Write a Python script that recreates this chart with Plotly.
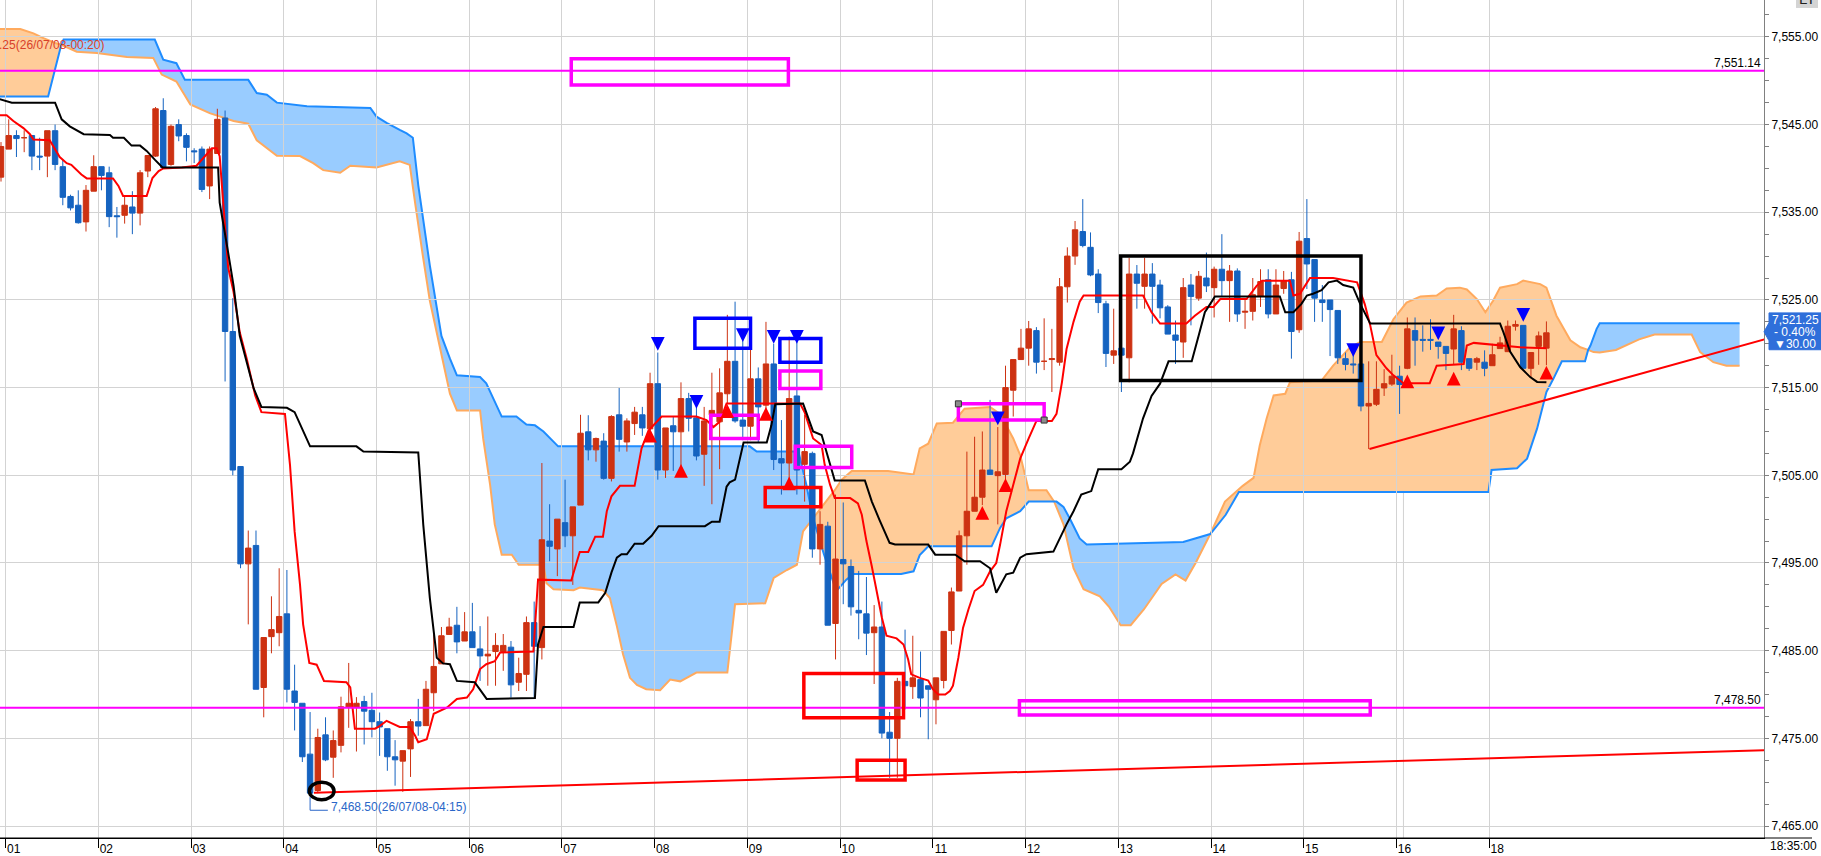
import plotly.graph_objects as go

# ---------------- candle data (5-minute bars) ----------------
opens = [7539.0, 7542.2, 7543.75, 7543.5, 7543.75, 7541.4, 7541.4, 7544.3, 7540.2, 7536.8,
         7535.8, 7533.9, 7537.4, 7540.2, 7539.5, 7534.6, 7534.65, 7535.6, 7534.9, 7539.7,
         7541.4, 7546.6, 7540.45, 7545.0, 7543.75, 7542.0, 7542.2, 7538.0, 7541.7, 7545.75,
         7521.4, 7506.0, 7494.9, 7497.0, 7480.8, 7486.6, 7487.05, 7489.2, 7480.4, 7479.0,
         7473.2, 7469.05, 7475.4, 7472.85, 7474.2, 7478.55, 7478.55, 7479.2, 7478.2, 7476.9,
         7476.1, 7472.9, 7472.4, 7473.8, 7476.9, 7476.45, 7480.2, 7483.5, 7486.85, 7487.9,
         7486.1, 7487.15, 7485.2, 7484.4, 7484.9, 7484.9, 7485.4, 7481.4, 7482.3, 7488.2,
         7485.35, 7497.5, 7496.6, 7499.6, 7498.1, 7501.6, 7509.96, 7507.9, 7508.9, 7504.65,
         7511.9, 7508.8, 7510.9, 7511.9, 7510.3, 7515.45, 7505.6, 7510.65, 7509.96, 7513.75,
         7511.55, 7507.4, 7511.9, 7511.1, 7514.3, 7518.0, 7511.3, 7510.6, 7516.0, 7513.0,
         7517.7, 7506.9, 7506.4, 7514.05, 7506.25, 7507.5, 7496.6, 7499.2, 7488.1, 7495.4,
         7494.6, 7489.6, 7489.2, 7487.05, 7487.7, 7475.7, 7475.0, 7481.5, 7480.9, 7481.7,
         7481.0, 7479.4, 7481.6, 7487.3, 7491.8, 7498.1, 7500.9, 7502.5, 7505.6, 7504.96,
         7505.1, 7514.7, 7518.2, 7519.5, 7521.5, 7518.0, 7518.2, 7517.9, 7526.5, 7530.0,
         7532.8, 7531.0, 7527.95, 7524.55, 7518.7, 7519.5, 7518.4, 7527.95, 7526.55, 7527.95,
         7526.7, 7524.2, 7521.0, 7520.2, 7526.7, 7525.2, 7527.5, 7526.4, 7528.5, 7527.2,
         7528.3, 7523.6, 7523.7, 7525.4, 7527.3, 7523.4, 7526.3, 7527.3, 7521.6, 7532.0,
         7529.6, 7525.0, 7525.0, 7523.8, 7518.3, 7517.7, 7517.7, 7512.9, 7513.1, 7514.96,
         7515.4, 7516.3, 7517.2, 7521.5, 7520.5, 7520.5, 7520.2, 7519.7, 7519.4, 7521.5,
         7518.3, 7517.9, 7517.9, 7517.5, 7519.45, 7519.1, 7522.0, 7522.1, 7517.2, 7519.7,
         7519.5]
highs = [7543.0, 7545.6, 7544.35, 7544.35, 7543.8, 7543.5, 7544.3, 7545.0, 7541.0, 7537.0,
         7537.5, 7538.1, 7541.5, 7540.2, 7540.2, 7535.6, 7536.8, 7537.4, 7539.8, 7541.5,
         7547.0, 7548.0, 7545.0, 7545.6, 7544.0, 7542.3, 7542.5, 7542.5, 7546.8, 7546.6,
         7525.2, 7506.0, 7498.7, 7498.7, 7486.5, 7491.2, 7494.4, 7494.2, 7483.4, 7479.0,
         7478.0, 7476.1, 7477.4, 7475.9, 7479.75, 7483.6, 7479.7, 7479.85, 7480.2, 7477.95,
         7476.1, 7474.8, 7473.6, 7477.2, 7479.5, 7481.55, 7486.85, 7487.7, 7488.75, 7490.0,
         7489.4, 7490.45, 7487.8, 7488.9, 7487.0, 7486.9, 7486.1, 7484.2, 7488.9, 7490.6,
         7506.4, 7501.7, 7500.0, 7504.5, 7501.4, 7511.9, 7511.85, 7509.3, 7509.8, 7511.85,
         7514.96, 7511.5, 7512.8, 7512.8, 7516.7, 7519.0, 7510.4, 7511.7, 7515.6, 7514.4,
         7513.1, 7512.8, 7516.7, 7517.2, 7523.3, 7524.8, 7520.6, 7520.2, 7517.3, 7522.5,
         7520.0, 7511.3, 7520.8, 7520.8, 7511.9, 7507.7, 7500.9, 7499.7, 7502.8, 7501.9,
         7495.4, 7494.1, 7493.4, 7490.2, 7490.6, 7478.0, 7481.9, 7487.4, 7486.7, 7484.9,
         7481.0, 7481.9, 7487.2, 7492.2, 7498.7, 7507.7, 7509.4, 7510.0, 7513.6, 7510.5,
         7517.5, 7518.2, 7521.7, 7522.6, 7521.9, 7522.9, 7521.7, 7527.5, 7531.0, 7534.0,
         7536.5, 7532.7, 7528.5, 7524.9, 7524.0, 7519.5, 7529.8, 7528.98, 7529.8, 7529.2,
         7527.3, 7524.4, 7522.65, 7527.5, 7527.95, 7528.3, 7530.4, 7528.8, 7532.5, 7528.98,
         7528.6, 7525.2, 7527.5, 7528.5, 7528.5, 7528.5, 7528.3, 7528.2, 7532.75, 7536.5,
         7529.6, 7526.7, 7525.0, 7523.8, 7519.0, 7519.0, 7517.7, 7518.0, 7518.0, 7517.1,
         7518.75, 7517.5, 7523.0, 7523.0, 7522.1, 7522.8, 7520.2, 7519.7, 7523.3, 7522.0,
         7518.3, 7518.5, 7519.25, 7520.0, 7520.8, 7522.65, 7522.65, 7522.1, 7519.0, 7521.4,
         7522.55]
lows = [7538.5, 7542.2, 7541.3, 7541.85, 7539.8, 7539.8, 7539.0, 7539.8, 7535.8, 7535.2,
        7533.7, 7532.8, 7537.4, 7537.5, 7533.3, 7532.1, 7533.7, 7532.5, 7533.5, 7539.0,
        7541.3, 7540.1, 7540.3, 7543.1, 7540.8, 7540.6, 7537.3, 7536.5, 7541.7, 7515.7,
        7505.0, 7494.4, 7488.0, 7480.6, 7477.4, 7484.7, 7485.5, 7479.1, 7475.9, 7472.3,
        7468.5, 7468.75, 7472.4, 7470.5, 7473.4, 7476.2, 7473.5, 7474.3, 7475.1, 7473.0,
        7471.3, 7469.6, 7468.9, 7470.6, 7475.3, 7476.45, 7478.1, 7483.5, 7486.85, 7484.7,
        7486.1, 7485.35, 7481.55, 7481.0, 7481.0, 7482.7, 7479.65, 7480.4, 7480.4, 7479.65,
        7484.0, 7495.2, 7493.5, 7496.8, 7492.5, 7501.6, 7506.7, 7506.55, 7504.5, 7504.3,
        7507.7, 7507.7, 7509.6, 7509.5, 7510.3, 7504.5, 7504.7, 7505.5, 7505.4, 7510.0,
        7506.7, 7503.8, 7501.7, 7505.7, 7513.1, 7511.0, 7509.0, 7509.0, 7508.8, 7512.0,
        7505.6, 7502.8, 7503.9, 7502.8, 7502.0, 7495.6, 7494.8, 7487.9, 7484.0, 7490.3,
        7489.0, 7486.3, 7484.5, 7481.2, 7475.0, 7470.5, 7470.5, 7478.3, 7479.5, 7477.4,
        7474.9, 7476.6, 7480.7, 7485.7, 7491.8, 7494.8, 7500.9, 7501.6, 7505.1, 7499.4,
        7504.1, 7511.7, 7518.2, 7517.5, 7516.6, 7517.0, 7514.5, 7517.5, 7524.7, 7529.0,
        7531.0, 7527.7, 7523.5, 7517.35, 7517.7, 7514.5, 7515.6, 7524.0, 7524.0, 7522.3,
        7522.9, 7521.1, 7517.7, 7518.4, 7522.1, 7524.9, 7525.9, 7523.0, 7525.4, 7522.5,
        7522.5, 7521.7, 7522.65, 7524.2, 7522.9, 7523.4, 7525.7, 7518.3, 7521.25, 7526.25,
        7522.5, 7522.5, 7518.6, 7517.7, 7516.97, 7516.6, 7512.3, 7508.0, 7512.9, 7514.05,
        7515.2, 7512.0, 7517.1, 7517.5, 7519.1, 7519.3, 7518.3, 7517.0, 7517.6, 7517.0,
        7516.9, 7517.0, 7516.3, 7517.5, 7519.45, 7519.1, 7521.5, 7517.2, 7516.2, 7517.6,
        7517.55]
closes = [7542.5, 7543.75, 7543.4, 7543.5, 7541.4, 7541.3, 7544.3, 7540.45, 7536.7, 7535.5,
          7533.8, 7537.5, 7540.2, 7539.2, 7534.5, 7534.5, 7535.8, 7534.9, 7539.5, 7541.47,
          7546.8, 7540.1, 7544.8, 7543.7, 7542.4, 7541.9, 7537.6, 7542.2, 7545.6, 7521.4,
          7505.6, 7494.9, 7496.7, 7480.6, 7486.5, 7487.4, 7488.9, 7480.6, 7479.1, 7472.9,
          7468.75, 7475.1, 7472.55, 7474.75, 7478.6, 7479.0, 7479.0, 7478.1, 7476.9, 7476.3,
          7472.9, 7472.55, 7473.6, 7476.9, 7476.4, 7480.6, 7483.2, 7486.7, 7487.7, 7486.0,
          7487.15, 7485.35, 7484.4, 7484.6, 7485.6, 7485.6, 7481.1, 7482.4, 7488.2, 7485.5,
          7497.65, 7496.9, 7500.0, 7498.1, 7501.4, 7509.8, 7507.9, 7509.2, 7504.65, 7511.7,
          7509.1, 7511.2, 7512.2, 7510.4, 7515.45, 7505.6, 7510.4, 7509.96, 7513.75, 7511.5,
          7507.2, 7511.2, 7512.4, 7514.4, 7518.0, 7511.2, 7510.6, 7516.0, 7512.8, 7517.7,
          7506.8, 7506.4, 7513.75, 7505.6, 7507.7, 7496.6, 7499.4, 7487.9, 7495.45, 7494.9,
          7490.0, 7489.3, 7487.0, 7487.7, 7475.6, 7475.0, 7481.5, 7481.0, 7481.9, 7479.6,
          7480.6, 7481.9, 7487.2, 7491.7, 7498.1, 7500.9, 7502.5, 7505.6, 7505.1, 7505.4,
          7515.0, 7518.2, 7519.5, 7521.7, 7517.9, 7518.0, 7518.3, 7526.5, 7530.0, 7533.0,
          7531.2, 7527.85, 7524.7, 7518.9, 7519.2, 7518.7, 7527.95, 7526.9, 7527.95, 7526.55,
          7524.1, 7521.1, 7520.4, 7526.4, 7525.4, 7527.7, 7526.6, 7528.5, 7527.2, 7528.3,
          7523.4, 7523.7, 7525.6, 7527.1, 7523.4, 7526.7, 7527.2, 7521.4, 7531.7, 7529.1,
          7525.2, 7524.7, 7523.9, 7518.4, 7517.65, 7517.6, 7512.9, 7513.2, 7514.8, 7515.45,
          7516.3, 7515.35, 7521.7, 7520.4, 7520.4, 7520.4, 7519.7, 7518.9, 7521.7, 7517.9,
          7517.2, 7518.3, 7517.2, 7518.75, 7520.1, 7522.0, 7522.2, 7517.2, 7519.0, 7520.9,
          7521.25]
bar_index = list(range(len(opens)))

hour_labels = ["01", "02", "03", "04", "05", "06", "07", "08", "09", "10",
               "11", "12", "13", "14", "15", "16", "18"]

# ---------------- indicator lines (bar index, price) ----------------
tenkan_x = [-0.2, 0.73, 1.6, 2.9, 3.75, 4.2, 6.3, 7.6, 8.5, 9.1, 10.4, 11.1, 14.5, 15.2, 15.8, 18.85,
            19.6, 20.4, 21.0, 23.4, 25.3, 27.3, 27.9, 28.3, 29.4, 30.1, 30.9, 31.8, 32.9, 33.7, 36.75,
            37.4, 38.0, 38.7, 39.1, 39.9, 40.85, 41.8, 44.7, 45.2, 45.8, 48.4, 49.0, 49.9, 51.6, 52.9,
            53.6, 54.0, 55.1, 56.0, 57.7, 59.0, 60.3, 61.1, 62.0, 62.8, 63.9, 64.6, 68.9, 69.5, 73.8,
            74.9, 76.0, 76.9, 77.9, 78.4, 79.0, 80.1, 82.0, 82.9, 83.8, 85.5, 90.0, 91.3, 92.2, 93.0,
            93.9, 103.4, 104.0, 104.7, 105.1, 106.2, 106.6, 107.3, 107.9, 109.9, 110.9, 111.4, 112.0,
            112.7, 113.3, 114.0, 114.6, 115.9, 116.8, 117.4, 117.8, 118.9, 120.0, 120.6, 121.3, 122.2,
            122.8, 123.2, 123.9, 124.5, 125.2, 126.0, 127.1, 128.0, 128.8, 129.3, 130.1, 131.0, 131.9,
            133.0, 134.0, 136.0, 136.6, 137.3, 137.9, 138.8, 139.6, 140.1, 147.8, 148.9, 150.0, 153.4,
            154.5, 156.0, 156.9, 157.8, 161.2, 162.5, 163.2, 166.8, 167.25, 168.1, 169.4, 172.4, 175.5,
            176.5, 177.2, 178.0, 179.3, 180.2, 181.5, 184.9, 185.8, 189.3, 189.7, 190.6, 194.4, 196.6,
            200.0]
tenkan_y = [7546.06, 7546.06, 7545.4, 7544.6, 7543.9, 7543.3, 7543.2, 7541.3, 7540.6, 7540.4, 7539.3,
            7538.86, 7538.86, 7538.0, 7536.85, 7536.85, 7538.9, 7539.7, 7540.0, 7540.1, 7540.3, 7542.3,
            7542.3, 7541.4, 7528.7, 7525.9, 7521.3, 7518.3, 7514.1, 7512.2, 7512.0, 7506.2, 7498.6,
            7492.5, 7488.0, 7483.6, 7483.4, 7481.55, 7481.4, 7480.8, 7476.1, 7476.1, 7476.4, 7477.0,
            7476.3, 7476.3, 7475.3, 7474.55, 7474.9, 7477.8, 7478.5, 7479.5, 7479.65, 7480.6, 7482.9,
            7483.45, 7483.8, 7484.8, 7484.9, 7493.1, 7493.0, 7496.25, 7496.25, 7498.0, 7498.0, 7500.9,
            7502.6, 7503.8, 7503.8, 7508.07, 7510.1, 7511.7, 7511.7, 7511.3, 7510.5, 7511.1, 7513.2,
            7513.2, 7512.2, 7510.2, 7509.2, 7508.45, 7506.2, 7503.9, 7502.4, 7502.4, 7501.8, 7500.5,
            7497.5, 7494.6, 7491.8, 7488.75, 7486.7, 7486.4, 7485.7, 7484.0, 7482.3, 7481.9, 7481.6,
            7480.6, 7480.0, 7480.0, 7480.4, 7481.0, 7484.2, 7487.6, 7489.7, 7491.8, 7492.5, 7494.05,
            7495.0, 7497.1, 7500.9, 7503.9, 7506.9, 7509.2, 7511.2, 7511.2, 7512.0, 7515.6, 7519.4,
            7522.5, 7524.8, 7525.5, 7525.5, 7523.6, 7522.3, 7522.3, 7523.2, 7524.2, 7524.2, 7525.1,
            7525.1, 7526.6, 7527.2, 7527.2, 7525.5, 7525.7, 7527.5, 7527.5, 7527.0, 7524.5, 7522.1,
            7518.7, 7517.2, 7516.4, 7515.5, 7515.5, 7517.5, 7517.7, 7519.8, 7520.1, 7519.8, 7519.6,
            7519.5]

kijun_x = [-0.2, 0.95, 1.4, 7.0, 7.85, 8.9, 10.7, 14.1, 14.5, 15.9, 16.9, 18.0, 18.85, 19.9, 20.9,
           28.1, 28.3, 29.4, 30.1, 30.9, 31.8, 32.7, 33.7, 37.0, 38.0, 40.0, 46.0, 46.9, 54.0, 54.2,
           54.65, 55.5, 56.4, 57.2, 58.1, 59.0, 61.3, 62.85, 69.1, 69.5, 70.2, 74.1, 74.9, 77.3, 78.2,
           79.0, 79.7, 80.3, 81.0, 82.0, 83.1, 84.2, 85.1, 91.1, 92.0, 93.0, 93.9, 94.3, 95.0, 96.1,
           99.1, 99.7, 100.2, 103.8, 104.7, 105.1, 106.2, 107.3, 107.9, 111.8, 112.7, 113.7, 115.0,
           115.7, 120.0, 120.9, 123.5, 124.7, 126.7, 128.0, 128.8, 130.1, 131.0, 131.9, 132.7, 136.2,
           137.0, 137.9, 138.8, 139.8, 141.1, 142.0, 145.0, 146.1, 146.5, 147.8, 148.9, 150.0, 151.1,
           154.1, 155.0, 155.8, 156.5, 157.1, 165.5, 166.2, 167.25, 168.3, 169.0, 169.8, 170.9, 171.8,
           172.9, 173.7, 175.0, 175.9, 177.2, 194.0, 194.4, 195.3, 196.6, 197.9, 198.8, 200.0]
kijun_y = [7547.9, 7547.65, 7547.5, 7547.5, 7545.6, 7544.8, 7543.9, 7543.8, 7543.5, 7543.5, 7542.6,
           7542.6, 7542.0, 7541.0, 7540.1, 7540.1, 7536.1, 7530.4, 7526.6, 7520.9, 7517.9, 7514.9,
           7512.8, 7512.7, 7512.2, 7508.3, 7508.3, 7507.7, 7507.6, 7505.0, 7499.35, 7491.0, 7484.2,
           7483.55, 7483.45, 7481.55, 7481.4, 7479.5, 7479.6, 7485.7, 7487.7, 7487.7, 7490.5, 7490.5,
           7491.6, 7493.9, 7495.6, 7496.0, 7496.0, 7497.2, 7497.2, 7498.1, 7499.2, 7499.2, 7499.7,
           7499.7, 7503.7, 7504.2, 7504.5, 7508.75, 7508.75, 7510.7, 7513.1, 7513.2, 7510.9, 7510.0,
           7509.6, 7506.2, 7504.4, 7504.4, 7502.0, 7499.9, 7497.3, 7497.1, 7497.1, 7495.95, 7495.95,
           7495.2, 7495.2, 7494.4, 7491.6, 7493.7, 7493.9, 7495.6, 7496.0, 7496.3, 7497.8, 7499.4,
           7500.9, 7502.8, 7503.2, 7505.7, 7505.7, 7506.55, 7507.5, 7511.5, 7514.05, 7515.45, 7518.0,
           7518.0, 7520.95, 7523.6, 7524.55, 7525.4, 7525.4, 7523.6, 7523.6, 7524.55, 7525.5, 7525.7,
           7526.1, 7527.0, 7527.2, 7526.7, 7526.4, 7524.55, 7522.3, 7522.3, 7521.4, 7519.1, 7517.35,
           7516.2, 7515.65, 7515.6]

span_a_x = [-0.2, 2.5, 4.2, 5.5, 7.0, 9.8, 12.4, 16.3, 19.7, 20.8, 22.7, 23.6, 24.5, 27.0, 30.1, 32.0,
            33.1, 35.7, 38.7, 40.4, 41.7, 43.9, 45.2, 48.6, 51.6, 52.9, 53.6, 54.6, 55.5, 56.8, 58.1,
            59.0, 62.0, 62.4, 63.3, 63.9, 64.8, 66.1, 67.0, 70.2, 70.6, 71.5, 74.1, 74.9, 77.9, 78.8,
            79.7, 80.5, 81.4, 82.3, 83.5, 85.3, 86.6, 87.9, 90.0, 94.0, 95.0, 98.9, 100.0, 101.7, 103.0,
            103.8, 107.1, 107.9, 108.8, 110.1, 114.8, 118.1, 118.9, 120.0, 121.1, 123.2, 124.7, 128.0,
            129.3, 131.0, 131.9, 133.0, 135.3, 137.5, 138.8, 140.1, 142.2, 143.4, 144.9, 146.2, 147.9,
            150.2, 152.0, 153.3, 154.6, 158.4, 160.7, 162.1, 162.9, 163.8, 164.7, 166.2, 166.8, 170.9,
            172.4, 174.6, 175.9, 178.7, 180.2, 181.9, 183.7, 185.8, 187.1, 188.8, 189.7, 191.0, 192.1,
            193.1, 194.0, 196.2, 197.0, 199.2, 200.0, 201.3, 203.1, 204.4, 206.1, 206.9, 209.0, 212.0,
            214.0, 218.8, 219.9, 221.6, 223.3, 225.0]
span_a_y = [7555.9, 7555.9, 7555.4, 7554.85, 7554.3, 7553.3, 7553.15, 7552.7, 7552.6, 7550.7, 7549.9,
            7548.6, 7547.3, 7546.3, 7545.4, 7545.1, 7543.2, 7541.45, 7541.4, 7540.6, 7539.8, 7539.5,
            7540.3, 7540.1, 7540.8, 7540.4, 7536.0, 7530.0, 7524.9, 7519.6, 7514.3, 7512.4, 7512.4,
            7509.2, 7503.9, 7499.4, 7495.95, 7495.95, 7494.8, 7494.8, 7492.7, 7492.0, 7491.9, 7492.2,
            7491.9, 7491.0, 7487.8, 7484.6, 7481.9, 7481.1, 7480.6, 7480.5, 7481.7, 7481.5, 7482.5,
            7482.5, 7490.3, 7490.4, 7493.3, 7494.2, 7494.8, 7498.6, 7502.4, 7503.3, 7504.5, 7505.5,
            7505.5, 7505.1, 7508.07, 7508.6, 7510.9, 7511.0, 7512.6, 7512.8, 7512.0, 7509.2, 7507.3,
            7503.3, 7503.3, 7499.4, 7494.4, 7492.0, 7491.2, 7490.0, 7487.9, 7487.9, 7489.7, 7492.6,
            7493.7, 7493.0, 7495.0, 7502.0, 7503.8, 7504.7, 7508.4, 7511.5, 7514.1, 7514.3, 7515.6,
            7515.8, 7517.5, 7519.6, 7520.2, 7520.2, 7522.8, 7524.7, 7525.4, 7525.5, 7526.3, 7526.4,
            7526.2, 7525.1, 7523.6, 7524.9, 7526.4, 7526.8, 7527.2, 7526.8, 7526.4, 7523.2, 7520.4,
            7519.6, 7519.05, 7519.0, 7519.3, 7520.5, 7521.06, 7521.06, 7519.05, 7517.9, 7517.5, 7517.5]

span_b_x = [-0.2, 6.1, 8.1, 19.9, 21.0, 22.7, 23.8, 32.0, 33.1, 34.4, 35.7, 39.6, 47.8, 48.6, 49.9,
            51.6, 52.5, 53.3, 54.0, 55.5, 57.0, 58.1, 59.0, 62.0, 62.8, 64.8, 66.7, 68.0, 69.1, 70.2,
            72.1, 96.9, 97.8, 103.2, 104.2, 106.5, 108.1, 109.4, 110.3, 116.5, 118.1, 118.9, 120.0,
            128.2, 129.3, 130.1, 131.9, 133.0, 136.6, 137.5, 138.3, 139.6, 140.5, 153.0, 158.5, 160.2,
            192.5, 192.9, 196.2, 197.5, 198.8, 200.0, 200.9, 202.0, 205.0, 205.7, 206.5, 206.9, 225.0]
span_b_y = [7548.2, 7548.2, 7554.7, 7554.7, 7552.4, 7552.0, 7550.1, 7550.1, 7548.6, 7548.4, 7547.5,
            7547.1, 7546.9, 7545.9, 7545.2, 7544.4, 7544.0, 7543.5, 7538.1, 7528.9, 7520.9, 7518.3,
            7516.4, 7516.2, 7515.5, 7511.7, 7511.7, 7510.8, 7510.7, 7510.0, 7508.3, 7508.3, 7507.7,
            7507.7, 7504.0, 7496.0, 7491.8, 7493.1, 7493.75, 7493.75, 7494.05, 7495.9, 7496.9, 7496.9,
            7499.0, 7500.1, 7500.9, 7502.0, 7502.0, 7501.4, 7500.1, 7497.8, 7497.1, 7497.4, 7500.5,
            7503.1, 7503.1, 7505.6, 7505.8, 7506.9, 7510.35, 7514.5, 7516.0, 7518.0, 7518.0, 7519.8,
            7521.7, 7522.35, 7522.35]

# points where the two cloud spans cross
cross_x = [7.8, 105.1, 136.3, 156.5, 205.4]
cross_y = [7554.1, 7500.1, 7502.0, 7498.3, 7519.3]

# signal arrows (bar index, arrow tip price)
sig_down_x = [85, 90, 96, 100, 103, 129, 175, 186, 197]
sig_down_y = [7519.2, 7512.6, 7520.2, 7520.0, 7520.0, 7510.7, 7518.5, 7520.4, 7522.5]
sig_up_x = [84, 88, 94, 99, 102, 127, 130, 182, 188, 200]
sig_up_y = [7510.3, 7506.3, 7513.1, 7512.8, 7504.85, 7501.5, 7504.65, 7516.5, 7516.8, 7517.5]

level_high = 7551.14
level_low = 7478.50
last_price = 7521.25
change_pct = "- 0.40%"
change_pts = "▼30.00"
low_label = "7,468.50(26/07/08-04:15)"
high_label = "7,556.25(26/07/08-00:20)"
time_label = "18:35:00"

# drawn boxes: (x0, y0, x1, y1, colour)
boxes = [
    (73.8, 7549.5, 101.9, 7552.5, "#FF00FF"),
    (89.8, 7519.5, 97.0, 7522.9, "#0000FF"),
    (100.8, 7517.9, 106.1, 7520.6, "#0000FF"),
    (100.8, 7514.9, 106.1, 7516.9, "#FF00FF"),
    (91.85, 7509.2, 98.0, 7511.85, "#FF00FF"),
    (102.8, 7505.9, 110.1, 7508.3, "#FF00FF"),
    (98.9, 7501.4, 106.1, 7503.6, "#FF0000"),
    (103.9, 7477.35, 116.8, 7482.4, "#FF0000"),
    (110.8, 7470.25, 117.0, 7472.5, "#FF0000"),
    (123.9, 7511.3, 135.0, 7513.15, "#FF00FF"),
    (131.8, 7477.65, 177.2, 7479.3, "#FF00FF"),
    (144.9, 7515.8, 176.0, 7530.0, "#000000"),
]
trend_lines = [(40.5, 7468.8, 228.2, 7473.65), (177.1, 7508.0, 228.2, 7520.5)]

# ---------------- styling ----------------
UP = "#CD3212"
DOWN = "#1563C0"
FILL_A = "#FFCC99"
FILL_B = "#99CCFF"
LINE_A = "#FFAA5E"
LINE_B = "#1E8CFF"
FONT = "Liberation Sans, Arial, sans-serif"
FS = 12

W, H = 1821, 856
ML, MR, MT, MB = 0, 57, 0, 15
PW, PH = W - ML - MR, H - MT - MB
X_RANGE = [-0.129, 228.16]
Y_RANGE = [7463.636, 7559.205]


def px(xp):
    return xp / PW


def py(yp):
    return 1 - yp / PH


def path_of(points, close=True):
    s = "M " + " L ".join(f"{x},{y}" for x, y in points)
    return s + (" Z" if close else "")


fig = go.Figure()
shapes = []

# ---- cloud fills (drawn beneath the candles) ----
A = sorted(list(zip(span_a_x, span_a_y)) + list(zip(cross_x, cross_y)))
B = sorted(list(zip(span_b_x, span_b_y)) + list(zip(cross_x, cross_y)))
bounds = [A[0][0]] + cross_x + [A[-1][0]]
for k in range(len(bounds) - 1):
    lo, hi = bounds[k], bounds[k + 1]
    a = [p for p in A if lo <= p[0] <= hi]
    b = [p for p in B if lo <= p[0] <= hi][::-1]
    shapes.append(dict(type="path", xref="x", yref="y", layer="below", path=path_of(a + b),
                       fillcolor=FILL_A if k % 2 == 0 else FILL_B, line=dict(width=0)))
shapes.append(dict(type="path", xref="x", yref="y", layer="below", path=path_of(A, False),
                   line=dict(color=LINE_A, width=2)))
shapes.append(dict(type="path", xref="x", yref="y", layer="below", path=path_of(B, False),
                   line=dict(color=LINE_B, width=2)))

# ---- candles ----
fig.add_trace(go.Candlestick(
    x=bar_index, open=opens, high=highs, low=lows, close=closes,
    increasing=dict(line=dict(color=UP, width=1), fillcolor=UP),
    decreasing=dict(line=dict(color=DOWN, width=1), fillcolor=DOWN),
    whiskerwidth=0, hoverinfo="skip", showlegend=False))

# ---- conversion / base lines ----
fig.add_trace(go.Scatter(x=tenkan_x, y=tenkan_y, mode="lines", line=dict(color="#FF0000", width=2),
                         hoverinfo="skip", showlegend=False))
fig.add_trace(go.Scatter(x=kijun_x, y=kijun_y, mode="lines", line=dict(color="#000000", width=2),
                         hoverinfo="skip", showlegend=False))

# horizontal levels
for lv in (level_high, level_low):
    shapes.append(dict(type="line", xref="paper", yref="y", x0=0, x1=1, y0=lv, y1=lv,
                       line=dict(color="#FF00FF", width=2)))
# boxes
for (x0, y0, x1, y1, c) in boxes:
    shapes.append(dict(type="rect", xref="x", yref="y", x0=x0, x1=x1, y0=y0, y1=y1,
                       line=dict(color=c, width=3.5), fillcolor="rgba(0,0,0,0)"))
# handles on selected box
for (hx, hy) in ((boxes[9][0], boxes[9][3]), (boxes[9][2], boxes[9][1])):
    shapes.append(dict(type="rect", xref="x", yref="y", xsizemode="pixel", ysizemode="pixel",
                       xanchor=hx, yanchor=hy, x0=-3, x1=3, y0=-3, y1=3,
                       line=dict(color="#333333", width=1), fillcolor="#8C8C8C"))
# trend lines
for (x0, y0, x1, y1) in trend_lines:
    shapes.append(dict(type="line", xref="x", yref="y", x0=x0, y0=y0, x1=x1, y1=y1,
                       line=dict(color="#FF0000", width=2)))
# ellipse around the low
shapes.append(dict(type="circle", xref="x", yref="y", x0=39.9, x1=43.1, y0=7468.0, y1=7470.0,
                   line=dict(color="#000000", width=3.5)))
# connector for low label
shapes.append(dict(type="path", xref="x", yref="y",
                   path="M 40.0,7468.3 L 40.0,7466.8 L 42.3,7466.8",
                   line=dict(color="#2A66C8", width=1)))
# extra day-separator grid line
shapes.append(dict(type="line", xref="x", yref="paper", x0=181.5, x1=181.5, y0=0, y1=1,
                   line=dict(color="#D3D3D3", width=1), layer="below"))
# bottom axis line extension
shapes.append(dict(type="line", xref="paper", yref="paper", x0=0, x1=px(1812), y0=0, y1=0,
                   line=dict(color="#000000", width=1)))
# price tag on right axis
tag_top, tag_bot, tag_mid = 314, 351, 333
shapes.append(dict(type="path", xref="paper", yref="paper", fillcolor="#2F6FDA",
                   line=dict(color="#2F6FDA", width=1),
                   path=(f"M {px(1769)},{py(tag_top)} L {px(1821)},{py(tag_top)} "
                         f"L {px(1821)},{py(tag_bot)} L {px(1769)},{py(tag_bot)} "
                         f"L {px(1769)},{py(tag_mid + 9)} L {px(1764)},{py(tag_mid)} "
                         f"L {px(1769)},{py(tag_mid - 9)} Z")))
# LT box
shapes.append(dict(type="rect", xref="paper", yref="paper", x0=px(1796), x1=px(1818),
                   y0=py(8), y1=1.01, fillcolor="#D4D4D4", line=dict(width=0)))

annotations = []
# arrows
for xx, yy in zip(sig_down_x, sig_down_y):
    annotations.append(dict(x=xx, y=yy, xref="x", yref="y", text="", showarrow=True,
                            arrowhead=2, arrowsize=1.1, arrowwidth=2.5, arrowcolor="#0000FF",
                            ax=0, ay=-13))
for xx, yy in zip(sig_up_x, sig_up_y):
    annotations.append(dict(x=xx, y=yy, xref="x", yref="y", text="", showarrow=True,
                            arrowhead=2, arrowsize=1.1, arrowwidth=2.5, arrowcolor="#FF0000",
                            ax=0, ay=13))
# level labels
for lv in (level_high, level_low):
    annotations.append(dict(x=px(1763), y=lv, xref="paper", yref="y", text=f"{lv:,.2f}",
                            showarrow=False, xanchor="right", yanchor="bottom", yshift=-1,
                            font=dict(family=FONT, size=FS, color="#000000")))
# low / high labels
annotations.append(dict(x=42.4, y=7467.16, xref="x", yref="y", text=low_label, showarrow=False,
                        xanchor="left", yanchor="middle",
                        font=dict(family=FONT, size=FS, color="#2A66C8")))
annotations.append(dict(x=px(106), y=py(45), xref="paper", yref="paper", text=high_label,
                        showarrow=False, xanchor="right", yanchor="middle",
                        font=dict(family=FONT, size=FS, color="#D8402A")))
# price tag text
for txt, yc in ((f"{last_price:,.2f}", 321), (change_pct, 333), (change_pts, 345)):
    annotations.append(dict(x=px(1795), y=py(yc), xref="paper", yref="paper", text=txt,
                            showarrow=False, xanchor="center", yanchor="middle",
                            font=dict(family=FONT, size=12, color="#FFFFFF")))
# time label
annotations.append(dict(x=px(1819), y=py(849), xref="paper", yref="paper", text=time_label,
                        showarrow=False, xanchor="right", yanchor="middle",
                        font=dict(family=FONT, size=FS, color="#000000")))
# LT
annotations.append(dict(x=px(1807), y=py(9), xref="paper", yref="paper", text="LT",
                        showarrow=False, xanchor="center", yanchor="bottom",
                        font=dict(family=FONT, size=15, color="#222222")))

fig.update_layout(
    width=W, height=H, autosize=False,
    margin=dict(l=ML, r=MR, t=MT, b=MB, pad=0),
    paper_bgcolor="#FFFFFF", plot_bgcolor="#FFFFFF",
    showlegend=False, boxgap=0.3, boxgroupgap=0,
    shapes=shapes, annotations=annotations,
    font=dict(family=FONT, size=FS, color="#000000"),
    xaxis=dict(range=X_RANGE, rangeslider=dict(visible=False), showgrid=True, gridcolor="#D3D3D3",
               gridwidth=1, zeroline=False, showline=True, linecolor="#000000", linewidth=1,
               tickmode="array", tickvals=[0.6 + 12 * k for k in range(len(hour_labels))],
               ticktext=hour_labels, ticks="outside", ticklen=9, tickcolor="#000000",
               ticklabelshift=8, ticklabelstandoff=-9,
               tickfont=dict(family=FONT, size=FS, color="#000000"), fixedrange=True),
    yaxis=dict(range=Y_RANGE, side="right", showgrid=True, gridcolor="#D3D3D3", gridwidth=1,
               zeroline=False, showline=True, linecolor="#808080", linewidth=1,
               tickmode="linear", tick0=7465, dtick=10, tickformat=",.2f",
               ticks="outside", ticklen=4, tickcolor="#808080",
               minor=dict(tick0=7465, dtick=2.5, ticks="outside", ticklen=4, tickcolor="#808080",
                          showgrid=False),
               tickfont=dict(family=FONT, size=FS, color="#000000"), fixedrange=True),
)

fig.write_html("out.html", config={"displayModeBar": False},
               post_script="document.body.style.margin='0px';")
